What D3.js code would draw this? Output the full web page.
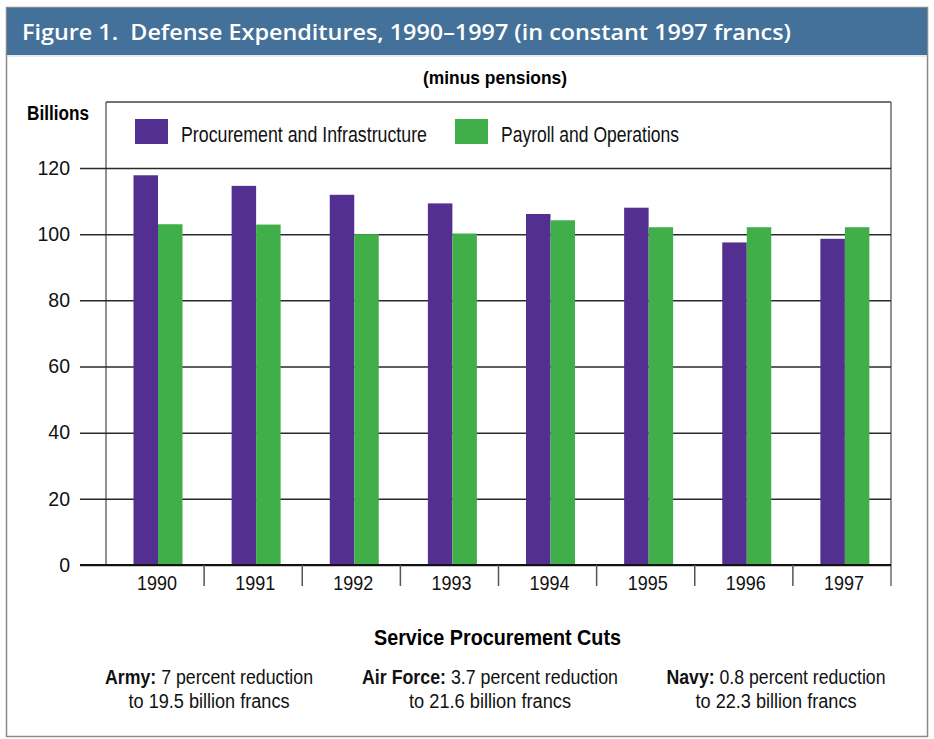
<!DOCTYPE html>
<html>
<head>
<meta charset="utf-8">
<script src="https://cdn.jsdelivr.net/npm/d3@7"></script>
<style>
  body { margin: 0; background: #fff; }
  svg { display: block; }
  .narrow { font-family: "Liberation Sans", Arial, Helvetica, sans-serif; }
</style>
</head>
<body>
<div id="chart"></div>
<script>
/* data */
var years = ["1990", "1991", "1992", "1993", "1994", "1995", "1996", "1997"];
var seriesNames = ["Procurement and Infrastructure", "Payroll and Operations"];
var procurement = [117.8, 114.6, 111.9, 109.3, 106.1, 108.0, 97.5, 98.6];
var payroll = [103.0, 102.9, 100.0, 100.2, 104.2, 102.1, 102.1, 102.1];
var yTicks = [0, 20, 40, 60, 80, 100, 120];
var seriesColors = ["#532f91", "#40ae49"];

var cuts = [
  { service: "Army:", line1: " 7 percent reduction", line2: "to 19.5 billion francs" },
  { service: "Air Force:", line1: " 3.7 percent reduction", line2: "to 21.6 billion francs" },
  { service: "Navy:", line1: " 0.8 percent reduction", line2: "to 22.3 billion francs" }
];

var width = 934, height = 739;
var plot = { left: 106, right: 891, top: 102, bottom: 565 };

var svg = d3.select("#chart").append("svg")
  .attr("width", width)
  .attr("height", height);

// the original type is a condensed sans, squeeze to the measured widths
function squeeze(sel, w) {
  sel.attr("textLength", w).attr("lengthAdjust", "spacingAndGlyphs");
}

/* outer frame + title bar */
svg.append("rect")
  .attr("x", 6.5).attr("y", 7.5)
  .attr("width", 921).attr("height", 729)
  .attr("fill", "#fff")
  .attr("stroke", "#8a8a8a")
  .attr("stroke-width", 1.5);

svg.append("rect")
  .attr("x", 7).attr("y", 8)
  .attr("width", 920).attr("height", 47)
  .attr("fill", "#44719a");
svg.append("line")
  .attr("x1", 7).attr("x2", 927)
  .attr("y1", 56).attr("y2", 56)
  .attr("stroke", "#c9d5e2");

svg.append("text")
  .attr("x", 22).attr("y", 40)
  .attr("fill", "#fff")
  .attr("font-family", "'Open Sans', 'Noto Sans', sans-serif")
  .attr("font-weight", 600)
  .attr("font-size", 21.5)
  .call(squeeze, 769)
  .text("Figure 1.\u00a0\u00a0Defense Expenditures, 1990\u20131997 (in constant 1997 francs)");

svg.append("text")
  .attr("class", "narrow")
  .attr("x", 423).attr("y", 84)
  .attr("font-weight", "bold")
  .attr("font-size", 19)
  .call(squeeze, 144)
  .text("(minus pensions)");

/* scales */
var x0 = d3.scaleBand().domain(years).range([plot.left, plot.right]).padding(0);
var x1 = d3.scaleBand().domain(seriesNames).range([27.5, 76.5]).padding(0);
var y = d3.scaleLinear().domain([0, 120]).range([plot.bottom, 168]);
var color = d3.scaleOrdinal().domain(seriesNames).range(seriesColors);

/* frame of the plot */
svg.append("line")
  .attr("x1", plot.left).attr("x2", plot.left)
  .attr("y1", plot.top).attr("y2", plot.bottom)
  .attr("stroke", "#6d6d6d").attr("stroke-width", 1.5);
svg.append("line")
  .attr("x1", plot.left).attr("x2", plot.right)
  .attr("y1", plot.top).attr("y2", plot.top)
  .attr("stroke", "#444").attr("stroke-width", 1.5);
svg.append("line")
  .attr("x1", plot.right).attr("x2", plot.right)
  .attr("y1", plot.top).attr("y2", plot.bottom + 21)
  .attr("stroke", "#6d6d6d").attr("stroke-width", 1.5);

/* y axis with gridlines */
var yAxis = svg.append("g")
  .attr("transform", "translate(80,0)")
  .call(d3.axisLeft(y)
    .tickValues(yTicks)
    .tickSizeInner(-(plot.right - 80))
    .tickSizeOuter(0)
    .tickPadding(10));
yAxis.select(".domain").remove();
yAxis.selectAll(".tick line")
  .attr("stroke", "#2a2a2a")
  .attr("stroke-width", 1.5);
yAxis.selectAll(".tick text")
  .attr("class", "narrow")
  .attr("font-family", null)
  .attr("font-size", 19.5)
  .attr("fill", "#111");

svg.append("text")
  .attr("class", "narrow")
  .attr("x", 27).attr("y", 120)
  .attr("font-weight", "bold")
  .attr("font-size", 20)
  .call(squeeze, 62)
  .text("Billions");

/* bars */
var rows = years.map(function(yr, i) {
  return { year: yr, values: [procurement[i], payroll[i]] };
});

var groups = svg.append("g").selectAll("g")
  .data(rows)
  .join("g")
  .attr("transform", function(d) { return "translate(" + x0(d.year) + ",0)"; });

groups.selectAll("rect")
  .data(function(d) {
    return seriesNames.map(function(s, j) { return { key: s, value: d.values[j] }; });
  })
  .join("rect")
  .attr("x", function(d) { return x1(d.key); })
  .attr("width", x1.bandwidth())
  .attr("y", function(d) { return y(d.value); })
  .attr("height", function(d) { return y(0) - y(d.value); })
  .attr("fill", function(d) { return color(d.key); });

/* x axis: baseline, category dividers, labels */
svg.append("line")
  .attr("x1", 80).attr("x2", plot.right)
  .attr("y1", plot.bottom).attr("y2", plot.bottom)
  .attr("stroke", "#111").attr("stroke-width", 2);

svg.append("g").selectAll("line")
  .data(years.slice(1))
  .join("line")
  .attr("x1", function(d) { return x0(d); })
  .attr("x2", function(d) { return x0(d); })
  .attr("y1", plot.bottom).attr("y2", plot.bottom + 21)
  .attr("stroke", "#555").attr("stroke-width", 1.5);

svg.append("g").attr("class", "narrow").selectAll("text")
  .data(years)
  .join("text")
  .attr("x", function(d) { return x0(d) + x0.bandwidth() / 2 - 18; })
  .attr("y", 590)
  .attr("font-size", 21)
  .attr("fill", "#111")
  .call(squeeze, 40)
  .text(function(d) { return d; });

/* legend */
var legendX = [135, 455];
var legendW = [246, 178];
var legend = svg.append("g").attr("class", "narrow").selectAll("g")
  .data(seriesNames)
  .join("g")
  .attr("transform", function(d, i) { return "translate(" + legendX[i] + ",119)"; });
legend.append("rect")
  .attr("width", 33).attr("height", 25)
  .attr("fill", function(d) { return color(d); });
legend.append("text")
  .attr("x", 46).attr("y", 23)
  .attr("font-size", 22)
  .attr("fill", "#111")
  .attr("textLength", function(d, i) { return legendW[i]; })
  .attr("lengthAdjust", "spacingAndGlyphs")
  .text(function(d) { return d; });

/* footer notes */
svg.append("text")
  .attr("class", "narrow")
  .attr("x", 374).attr("y", 645)
  .attr("font-weight", "bold")
  .attr("font-size", 22.5)
  .call(squeeze, 247)
  .text("Service Procurement Cuts");

var cutX = [209, 490, 776];
var line1W = [208, 256, 219];
var line2W = [161, 162, 161];
var notes = svg.append("g").attr("class", "narrow").selectAll("g")
  .data(cuts)
  .join("g")
  .attr("transform", function(d, i) { return "translate(" + cutX[i] + ",0)"; });
var line1 = notes.append("text")
  .attr("x", function(d, i) { return -line1W[i] / 2; })
  .attr("y", 684)
  .attr("font-size", 19.5)
  .attr("fill", "#111")
  .attr("textLength", function(d, i) { return line1W[i]; })
  .attr("lengthAdjust", "spacingAndGlyphs");
line1.append("tspan").attr("font-weight", "bold").text(function(d) { return d.service; });
line1.append("tspan").text(function(d) { return d.line1; });
notes.append("text")
  .attr("x", function(d, i) { return -line2W[i] / 2; })
  .attr("y", 708)
  .attr("font-size", 19.5)
  .attr("fill", "#111")
  .attr("textLength", function(d, i) { return line2W[i]; })
  .attr("lengthAdjust", "spacingAndGlyphs")
  .text(function(d) { return d.line2; });
</script>
</body>
</html>
